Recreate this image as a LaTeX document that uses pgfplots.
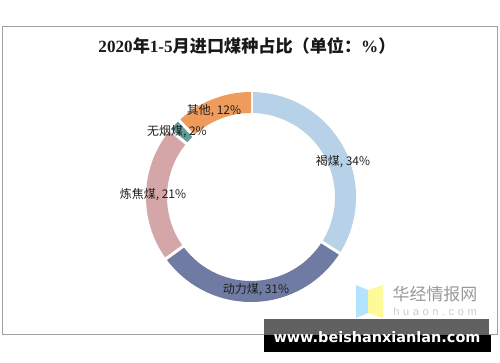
\documentclass[border=0pt]{standalone}
\usepackage{fontspec}
\setmainfont{Liberation Sans}
\newfontfamily\cjk{Noto Sans CJK SC}
\newfontfamily\lserif{Liberation Serif}
\newfontfamily\dejavu{DejaVu Sans}
\usepackage{pgfplots}
\pgfplotsset{compat=1.18}
\definecolor{cA}{HTML}{B7D2E8}
\definecolor{cB}{HTML}{6F7BA3}
\definecolor{cC}{HTML}{D5A6A8}
\definecolor{cD}{HTML}{5F9E9B}
\definecolor{cE}{HTML}{EF9B5C}
\definecolor{frame}{HTML}{A0A0A0}
\begin{document}
\begin{tikzpicture}
\begin{axis}[
  x=1bp, y=1bp,
  xmin=0, xmax=500, ymin=0, ymax=362,
  hide axis, clip=false,
]
\fill[white] (axis cs:0,0) rectangle (axis cs:500,362);
\draw[frame, line width=1bp] (axis cs:2,28) rectangle (axis cs:497,336);
% title
\node[text=black!90] at (axis cs:247,316)
  {\bfseries\fontsize{17.2}{20}\selectfont\lserif 2020\cjk 年\lserif 1-5\cjk 月进口煤种占比（单位：\lserif\%\cjk ）};
% donut: values in percent, clockwise from 12 o'clock
\def\cx{251}\def\cy{165}\def\R{105}\def\r{84}
\foreach [remember=\e as \s (initially 90)] \v/\c in {34/cA,31/cB,21/cC,2/cD,12/cE} {
  \pgfmathsetmacro\e{\s-3.6*\v}
  \edef\temp{\noexpand\fill[\c, shift={(axis cs:\cx,\cy)}] (\s:\R bp)
    arc[start angle=\s, end angle=\e, radius=\R bp] -- (\e:\r bp)
    arc[start angle=\e, end angle=\s, radius=\r bp] -- cycle;
    \noexpand\draw[white, line width=3bp, shift={(axis cs:\cx,\cy)}] (\s:80bp) -- (\s:109bp);}
  \temp
}
% labels
\node[text=black!88] at (axis cs:343,200) {\cjk\fontsize{12}{14}\selectfont 褐煤, 34\%};
\node[text=black!88] at (axis cs:256,72) {\cjk\fontsize{12}{14}\selectfont 动力煤, 31\%};
\node[text=black!88] at (axis cs:153,167) {\cjk\fontsize{12}{14}\selectfont 炼焦煤, 21\%};
\node[text=black!88] at (axis cs:177,230) {\cjk\fontsize{12}{14}\selectfont 无烟煤, 2\%};
\node[text=black!88] at (axis cs:214,251) {\cjk\fontsize{12}{14}\selectfont 其他, 12\%};
% logo
\fill[blue!35!cyan!30] (axis cs:356,77) -- (axis cs:368,72) -- (axis cs:368,49) -- (axis cs:356,44) -- cycle;
\fill[yellow!40] (axis cs:368,72) -- (axis cs:383,77) -- (axis cs:383,44) -- (axis cs:368,49) -- cycle;
\node[text=black!40] at (axis cs:435,68) {\cjk\fontsize{17}{19}\selectfont 华经情报网};
\node[text=black!20] at (axis cs:435,50) {\fontsize{11}{12}\selectfont h\,\,u\,\,a\,\,o\,\,n\,\,.\,\,c\,\,o\,\,m};
% bottom bar
\fill[black!62] (axis cs:264,27) rectangle (axis cs:489,43);
\fill[black] (axis cs:264,10) rectangle (axis cs:491,27);
\node[text=white] at (axis cs:377,25) {\dejavu\bfseries\fontsize{14.5}{16}\selectfont www.beishanxianlan.com};
\end{axis}
\end{tikzpicture}
\end{document}
